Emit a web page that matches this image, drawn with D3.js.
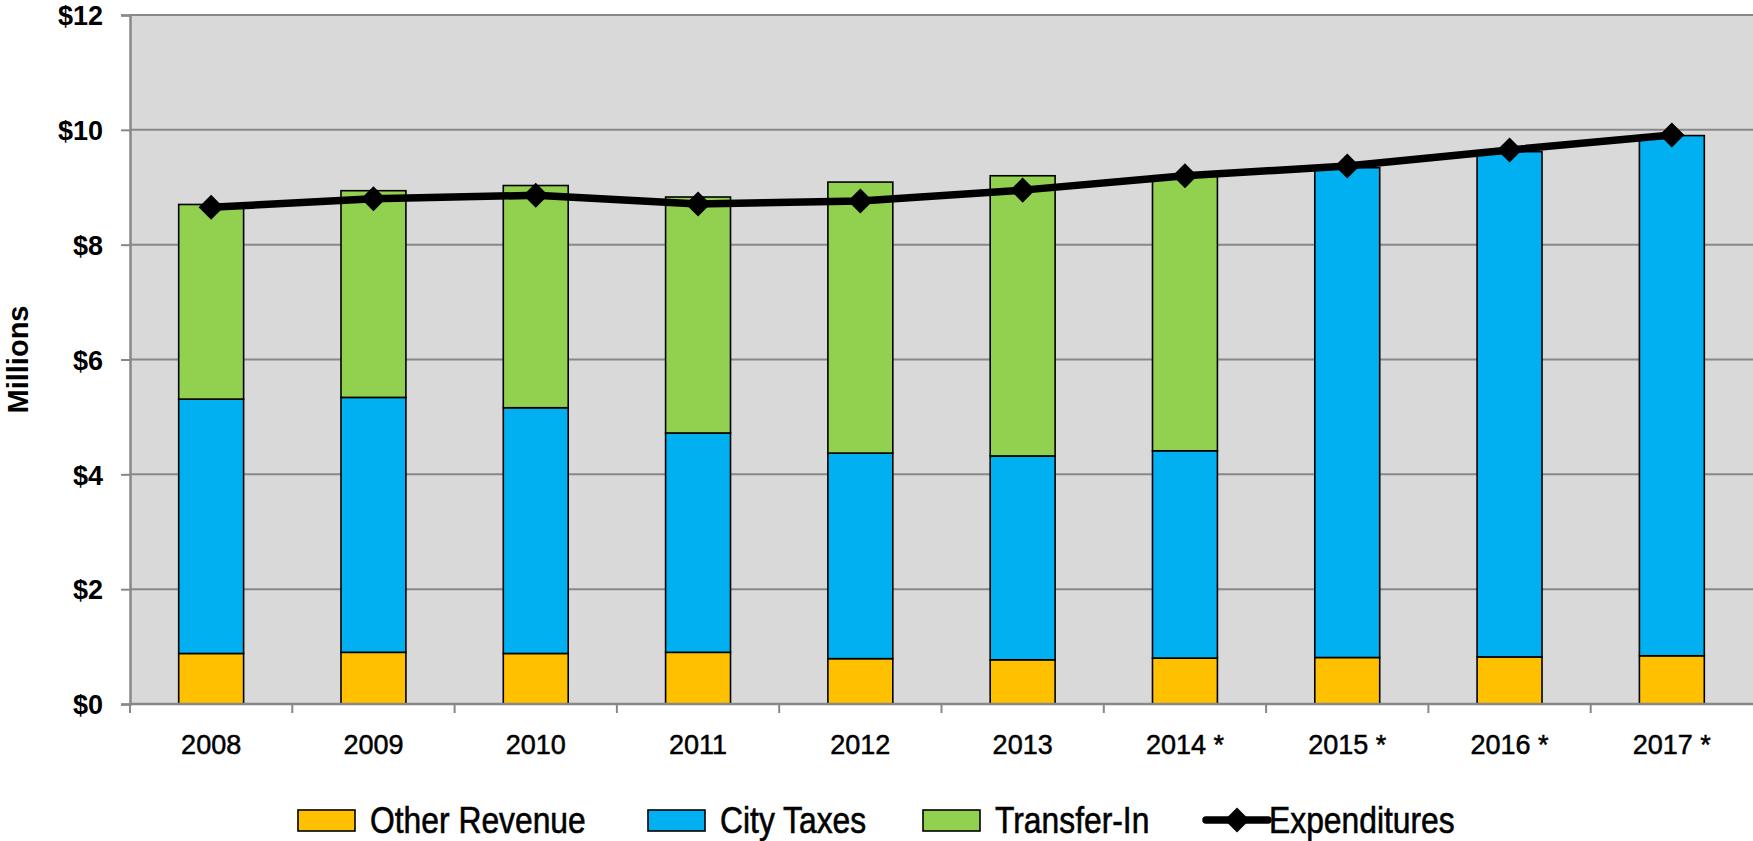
<!DOCTYPE html>
<html>
<head>
<meta charset="utf-8">
<script src="https://cdn.jsdelivr.net/npm/d3@7"></script>
<style>
  html, body { margin: 0; padding: 0; background: #fff; }
  svg { display: block; }
</style>
</head>
<body>
<svg id="chart"></svg>
<script>
const width = 1753, height = 841;

// values in millions
const years = ['2008', '2009', '2010', '2011', '2012', '2013', '2014 *', '2015 *', '2016 *', '2017 *'];
const otherRevenue = [0.88, 0.90, 0.88, 0.90, 0.79, 0.77, 0.80, 0.81, 0.82, 0.84];
const cityTaxes    = [4.43, 4.44, 4.28, 3.82, 3.58, 3.55, 3.61, 8.53, 8.80, 9.06];
const transferIn   = [3.39, 3.60, 3.87, 4.11, 4.72, 4.88, 4.79, 0, 0, 0];
const expenditures = [8.65, 8.80, 8.86, 8.71, 8.76, 8.95, 9.20, 9.37, 9.65, 9.91];
const yTicks = [0, 2, 4, 6, 8, 10, 12];

const series = [
  {name: 'Other Revenue', values: otherRevenue, color: '#FFC000'},
  {name: 'City Taxes', values: cityTaxes, color: '#00B0F0'},
  {name: 'Transfer-In', values: transferIn, color: '#92D050'}
];

const margin = {top: 15, right: 0, bottom: 137, left: 130};
const grid_color = '#888888';
const plot_bg = '#d9d9d9';
const font = '"Liberation Sans", Arial, sans-serif';

const svg = d3.select('#chart')
  .attr('width', width)
  .attr('height', height);

const x = d3.scaleBand()
  .domain(years)
  .range([margin.left, width - margin.right])
  .paddingInner(0.6)
  .paddingOuter(0.3);

const y = d3.scaleLinear()
  .domain([0, 12])
  .range([height - margin.bottom, margin.top]);

// plot background
svg.append('rect')
  .attr('x', margin.left)
  .attr('y', y(12))
  .attr('width', width - margin.right - margin.left)
  .attr('height', y(0) - y(12))
  .attr('fill', plot_bg);

// horizontal gridlines
svg.append('g')
  .selectAll('line')
  .data(yTicks)
  .join('line')
  .attr('x1', margin.left)
  .attr('x2', width - margin.right)
  .attr('y1', d => y(d))
  .attr('y2', d => y(d))
  .attr('stroke', grid_color)
  .attr('stroke-width', 2);

// stacked bars
const rows = years.map((yr, i) => {
  const row = {year: yr};
  series.forEach(s => row[s.name] = s.values[i]);
  return row;
});
const stacked = d3.stack().keys(series.map(s => s.name))(rows);

svg.append('g')
  .selectAll('g')
  .data(stacked)
  .join('g')
  .attr('fill', (d, i) => series[i].color)
  .selectAll('rect')
  .data(d => d.filter(p => p[1] - p[0] > 0))
  .join('rect')
  .attr('x', d => x(d.data.year))
  .attr('y', d => y(d[1]))
  .attr('width', x.bandwidth())
  .attr('height', d => y(d[0]) - y(d[1]))
  .attr('stroke', '#000')
  .attr('stroke-width', 1.6);

// y axis
const yAxis = svg.append('g')
  .attr('transform', `translate(${margin.left},0)`)
  .call(d3.axisLeft(y).tickValues(yTicks).tickFormat(d => '$' + d).tickSize(9).tickPadding(18));
yAxis.select('.domain').attr('stroke', grid_color).attr('stroke-width', 2.5);
yAxis.selectAll('.tick line').attr('stroke', grid_color).attr('stroke-width', 2);
yAxis.selectAll('.tick text')
  .attr('fill', '#000')
  .attr('dy', '0.36em')
  .style('font-family', font)
  .style('font-weight', 'bold')
  .style('font-size', '27px');

// x axis line + boundary ticks
const xBase = y(0);
svg.append('line')
  .attr('x1', margin.left)
  .attr('x2', width - margin.right)
  .attr('y1', xBase)
  .attr('y2', xBase)
  .attr('stroke', grid_color)
  .attr('stroke-width', 2.5);

const boundaries = years.map(d => x(d) + x.bandwidth() / 2 - x.step() / 2);
svg.append('g')
  .selectAll('line')
  .data(boundaries)
  .join('line')
  .attr('x1', d => d)
  .attr('x2', d => d)
  .attr('y1', xBase)
  .attr('y2', xBase + 9)
  .attr('stroke', grid_color)
  .attr('stroke-width', 2);

svg.append('g')
  .selectAll('text')
  .data(years)
  .join('text')
  .attr('x', d => x(d) + x.bandwidth() / 2)
  .attr('y', xBase + 50)
  .attr('text-anchor', 'middle')
  .style('font-family', font)
  .style('font-size', '27px')
  .attr('fill', '#000')
  .attr('stroke', '#000')
  .attr('stroke-width', 0.5)
  .text(d => d);

// y axis title
svg.append('text')
  .attr('transform', `translate(28, ${(y(0) + y(12)) / 2}) rotate(-90)`)
  .attr('text-anchor', 'middle')
  .style('font-family', font)
  .style('font-weight', 'bold')
  .style('font-size', '29px')
  .text('Millions');

// expenditures line
const line = d3.line()
  .x((d, i) => x(years[i]) + x.bandwidth() / 2)
  .y(d => y(d));

svg.append('path')
  .datum(expenditures)
  .attr('d', line)
  .attr('fill', 'none')
  .attr('stroke', '#000')
  .attr('stroke-width', 7.5)
  .attr('stroke-linejoin', 'round');

const diamond = d3.symbol().type(d3.symbolDiamond2).size(400);
svg.append('g')
  .selectAll('path')
  .data(expenditures)
  .join('path')
  .attr('d', diamond)
  .attr('transform', (d, i) => `translate(${x(years[i]) + x.bandwidth() / 2},${y(d)})`)
  .attr('fill', '#000');

// legend
const legend_y = 820;
const legend_x = [298, 648, 923, 1206];
const squeeze = 0.86; // legend text is condensed in the original

const legend = svg.append('g');
function legendText(g, tx, label) {
  g.append('text')
    .attr('transform', `translate(${tx},13) scale(${squeeze},1)`)
    .style('font-family', font)
    .style('font-size', '37px')
    .attr('fill', '#000')
    .attr('stroke', '#000')
    .attr('stroke-width', 0.6)
    .text(label);
}

series.forEach((s, i) => {
  const g = legend.append('g').attr('transform', `translate(${legend_x[i]},${legend_y})`);
  g.append('rect')
    .attr('x', 0)
    .attr('y', -10)
    .attr('width', 57)
    .attr('height', 21)
    .attr('fill', s.color)
    .attr('stroke', '#000')
    .attr('stroke-width', 1.6);
  legendText(g, 72, s.name);
});

const eg = legend.append('g').attr('transform', `translate(${legend_x[3]},${legend_y})`);
eg.append('line')
  .attr('x1', 0).attr('x2', 62)
  .attr('y1', 0).attr('y2', 0)
  .attr('stroke', '#000')
  .attr('stroke-width', 7.5)
  .attr('stroke-linecap', 'round');
eg.append('path')
  .attr('d', diamond)
  .attr('transform', 'translate(31,0)')
  .attr('fill', '#000');
legendText(eg, 63, 'Expenditures');
</script>
</body>
</html>
